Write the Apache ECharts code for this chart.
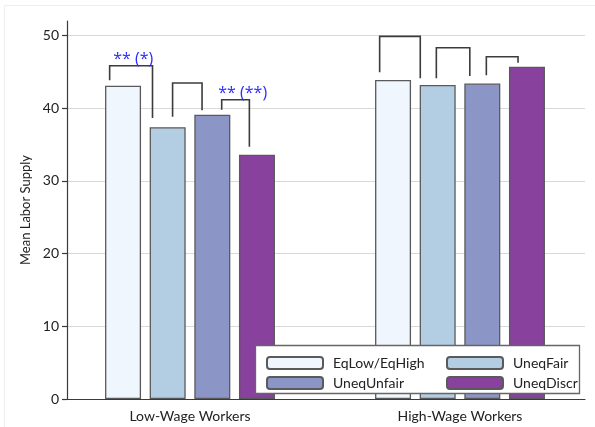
<!DOCTYPE html>
<html>
<head>
<meta charset="utf-8">
<script src="https://cdn.jsdelivr.net/npm/echarts@6/dist/echarts.min.js"></script>
<style>html,body{margin:0;padding:0;background:#fff}#c{width:595px;height:427px}</style>
</head>
<body>
<div id="c"></div>
<script>
const categories = ['Low-Wage Workers', 'High-Wage Workers'];
const seriesNames = ['EqLow/EqHigh', 'UneqFair', 'UneqUnfair', 'UneqDiscr'];
const eqLowHigh = [43.1, 43.9];
const uneqFair = [37.4, 43.2];
const uneqUnfair = [39.1, 43.4];
const uneqDiscr = [33.6, 45.7];
const yTicks = [0, 10, 20, 30, 40, 50];
// brackets: [category, leftSlot, rightSlot, topValue, leftBottom, rightBottom, label, labelSlot]
const brackets = [
  [0, -0.30, 0.66, 45.85, 43.84, 38.65, '** (*)', 0.23],
  [0, 1.11, 1.77, 43.47, 38.83, 39.71, '', 0],
  [0, 2.21, 2.83, 41.17, 39.79, 34.70, '** (**)', 2.68],
  [1, -0.30, 0.61, 49.89, 44.94, 44.11, '', 0],
  [1, 0.97, 1.72, 48.32, 44.11, 44.43, '', 0],
  [1, 2.09, 2.80, 47.08, 44.53, 46.26, '', 0]
];

const colors = ['#eff6fd', '#b3cde3', '#8c96c6', '#88419d'];
const values = [eqLowHigh, uneqFair, uneqUnfair, uneqDiscr];
const BAR_W = 36, GAP = 0.24;
const PITCH = BAR_W * (1 + GAP);
const FONT = 'Lato';

const chart = echarts.init(document.getElementById('c'), null, {renderer: 'canvas'});

const barSeries = seriesNames.map((n, i) => ({
  name: n, type: 'bar', xAxisIndex: 1, yAxisIndex: 1,
  data: values[i], barWidth: BAR_W, barGap: (GAP * 100) + '%',
  itemStyle: {color: colors[i], borderColor: '#5a5a5a', borderWidth: 1.3},
  z: 2, silent: true
}));

const bracketSeries = {
  type: 'custom', xAxisIndex: 1, yAxisIndex: 1, z: 5, silent: true,
  data: brackets,
  renderItem: function (params, api) {
    const cat = api.value(0);
    const cx = api.coord([cat, 0])[0];
    const xl = cx + (api.value(1) - 1.5) * PITCH;
    const xr = cx + (api.value(2) - 1.5) * PITCH;
    const yt = api.coord([cat, api.value(3)])[1];
    const yl = api.coord([cat, api.value(4)])[1];
    const yr = api.coord([cat, api.value(5)])[1];
    const children = [{
      type: 'polyline',
      shape: {points: [[xl, yl], [xl, yt], [xr, yt], [xr, yr]]},
      style: {stroke: '#3c3c3c', lineWidth: 1.6, fill: null}
    }];
    const lab = brackets[params.dataIndex][6];
    if (lab) {
      children.push({
        type: 'text',
        style: {
          text: lab, x: cx + (brackets[params.dataIndex][7] - 1.5) * PITCH, y: yt + 2,
          align: 'center', verticalAlign: 'bottom',
          fill: '#2b2bff', font: '16px "Open Sans"'
        }
      });
    }
    return {type: 'group', children: children};
  }
};

chart.setOption({
  animation: false,
  backgroundColor: '#ffffff',
  textStyle: {fontFamily: FONT},
  grid: [
    {left: 67, right: 10, top: 21, bottom: 28},
    {left: 55, width: 542, top: 21, bottom: 28}
  ],
  xAxis: [
    {type: 'value', gridIndex: 0, min: 0, max: 1,
     axisLine: {show: true, onZero: false, lineStyle: {color: '#3a3a3a', width: 1.2}},
     axisTick: {show: false}, axisLabel: {show: false}, splitLine: {show: false}},
    {type: 'category', gridIndex: 1, data: categories,
     axisLine: {show: false}, axisTick: {show: false},
     axisLabel: {color: '#222', fontSize: 14, margin: 10, fontFamily: FONT}}
  ],
  yAxis: [
    {type: 'value', gridIndex: 0, min: 0, max: 52, interval: 10,
     name: 'Mean Labor Supply', nameLocation: 'middle', nameGap: 35, nameRotate: 90,
     nameTextStyle: {color: '#222', fontSize: 13, fontFamily: FONT},
     axisLine: {show: true, lineStyle: {color: '#3a3a3a', width: 1.2}},
     axisTick: {show: true, length: 5, lineStyle: {color: '#3a3a3a', width: 1.2}},
     axisLabel: {color: '#222', fontSize: 14, margin: 8, showMaxLabel: false, fontFamily: FONT,
       formatter: v => (yTicks.indexOf(v) >= 0 ? String(v) : '')},
     splitLine: {show: true, showMinLine: false, showMaxLine: false, lineStyle: {color: '#d9d9d9', width: 1.2}}},
    {type: 'value', gridIndex: 1, min: 0, max: 52, show: false, splitLine: {show: false}}
  ],
  legend: [
    {data: [seriesNames[0], seriesNames[2]], orient: 'vertical', left: 261, top: 351,
     itemWidth: 56, itemHeight: 12, itemGap: 6, z: 6,
     textStyle: {color: '#222', fontSize: 14, lineHeight: 14, fontFamily: FONT, padding: [0, 0, 0, 5]}, selectedMode: false},
    {data: [seriesNames[1], seriesNames[3]], orient: 'vertical', left: 441, top: 351,
     itemWidth: 56, itemHeight: 12, itemGap: 6, z: 6,
     textStyle: {color: '#222', fontSize: 14, lineHeight: 14, fontFamily: FONT, padding: [0, 0, 0, 5]}, selectedMode: false}
  ],
  graphic: [
    {type: 'rect', shape: {x: 4.5, y: 5.5, width: 600, height: 430}, style: {fill: null, stroke: '#eeeeee', lineWidth: 1}, z: 0, silent: true},
    {type: 'rect', shape: {x: 255.5, y: 345.5, width: 324, height: 48}, style: {fill: '#ffffff', stroke: '#666666', lineWidth: 1.3}, z: 5, silent: true}
  ],
  series: barSeries.concat([bracketSeries])
});
</script>
</body>
</html>
